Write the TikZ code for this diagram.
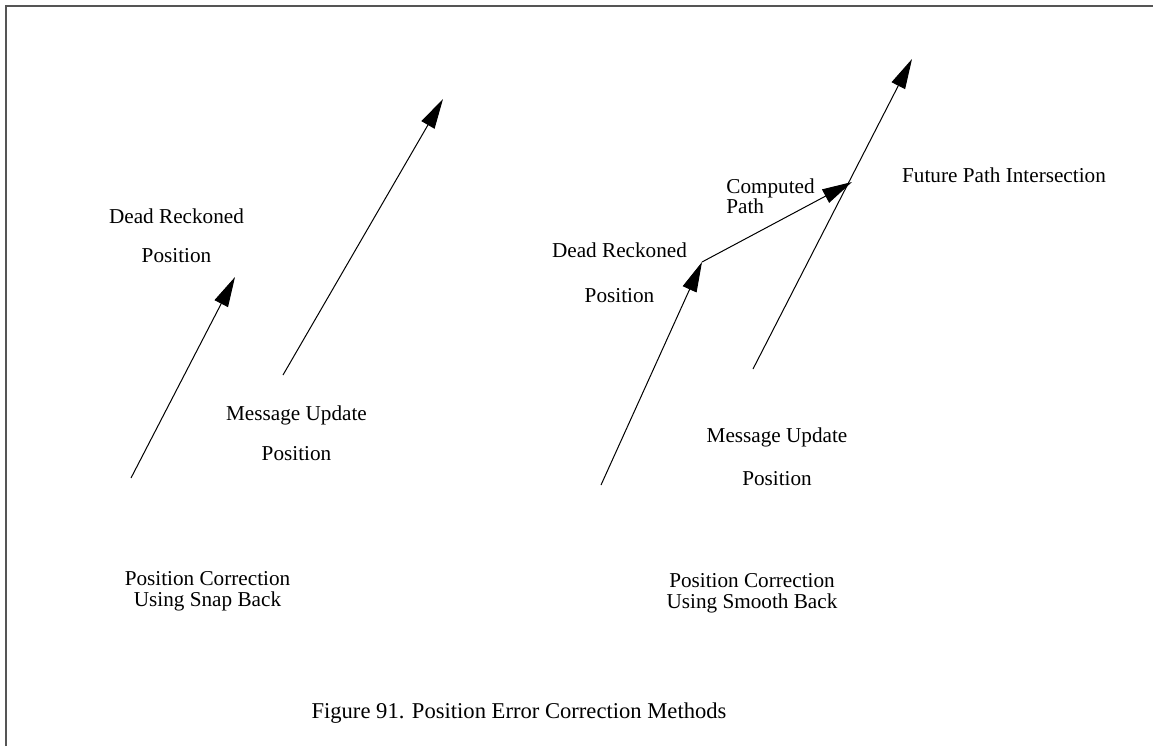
\documentclass[tikz,border=0pt]{standalone}
\usepackage{fontspec}
\setmainfont{Liberation Serif}
\usetikzlibrary{arrows.meta}
\definecolor{framegray}{HTML}{555555}
\begin{document}
\begin{tikzpicture}[x=0.5pt,y=-0.5pt,
  lbl/.style={inner sep=0pt,anchor=base,font=\fontsize{10.6pt}{12pt}\selectfont},
  lblleft/.style={inner sep=0pt,anchor=base west,font=\fontsize{10.6pt}{12pt}\selectfont},
  caption/.style={inner sep=0pt,anchor=base,font=\fontsize{11.3pt}{13pt}\selectfont},
  motion/.style={line width=0.5pt,-{Triangle[length=15pt,width=7.5pt]}},
  frameline/.style={line width=1.3pt,draw=framegray}]
\useasboundingbox (0,0) rectangle (1153,746);

% frame along the top and left edges
\coordinate (fb) at (6,746);
\coordinate (fc) at (6,6);
\coordinate (fr) at (1153,6);
\draw[frameline] (fb) -- (fc) -- (fr);

% ---- snap back ----
\coordinate (sdA) at (131,478);
\coordinate (sdB) at (235,277);
\coordinate (smA) at (283,375);
\coordinate (smB) at (443,99);
\draw[motion] (sdA) -- (sdB);
\draw[motion] (smA) -- (smB);

\node[lbl] (sdr1) at (176.5,223) {Dead Reckoned};
\node[lbl] (sdr2) at (176.5,262) {Position};
\node[lbl] (smu1) at (296.5,420) {Message Update};
\node[lbl] (smu2) at (296.5,460) {Position};
\node[lbl] (sct1) at (207.5,585) {Position Correction};
\node[lbl] (sct2) at (207.5,606) {Using Snap Back};

% ---- smooth back ----
\coordinate (mdA) at (601,485);
\coordinate (mdB) at (702,262);
\coordinate (mmA) at (753,369);
\coordinate (mmB) at (912,59);
\coordinate (cpB) at (852,182);
\draw[motion] (mdA) -- (mdB);
\draw[motion] (mmA) -- (mmB);
\draw[motion] (mdB) -- (cpB);

\node[lbl] (mdr1) at (619.5,257) {Dead Reckoned};
\node[lbl] (mdr2) at (619.5,302) {Position};
\node[lbl] (mmu1) at (777,442) {Message Update};
\node[lbl] (mmu2) at (777,485) {Position};
\node[lblleft] (cp1) at (726,193) {Computed};
\node[lblleft] (cp2) at (726,213) {Path};
\node[lbl] (fpi) at (1004,182) {Future Path Intersection};
\node[lbl] (mct1) at (752,587) {Position Correction};
\node[lbl] (mct2) at (752,608) {Using Smooth Back};

% caption
\node[caption] (title) at (519,718) {Figure 91. Position Error Correction Methods};
\end{tikzpicture}
\end{document}
